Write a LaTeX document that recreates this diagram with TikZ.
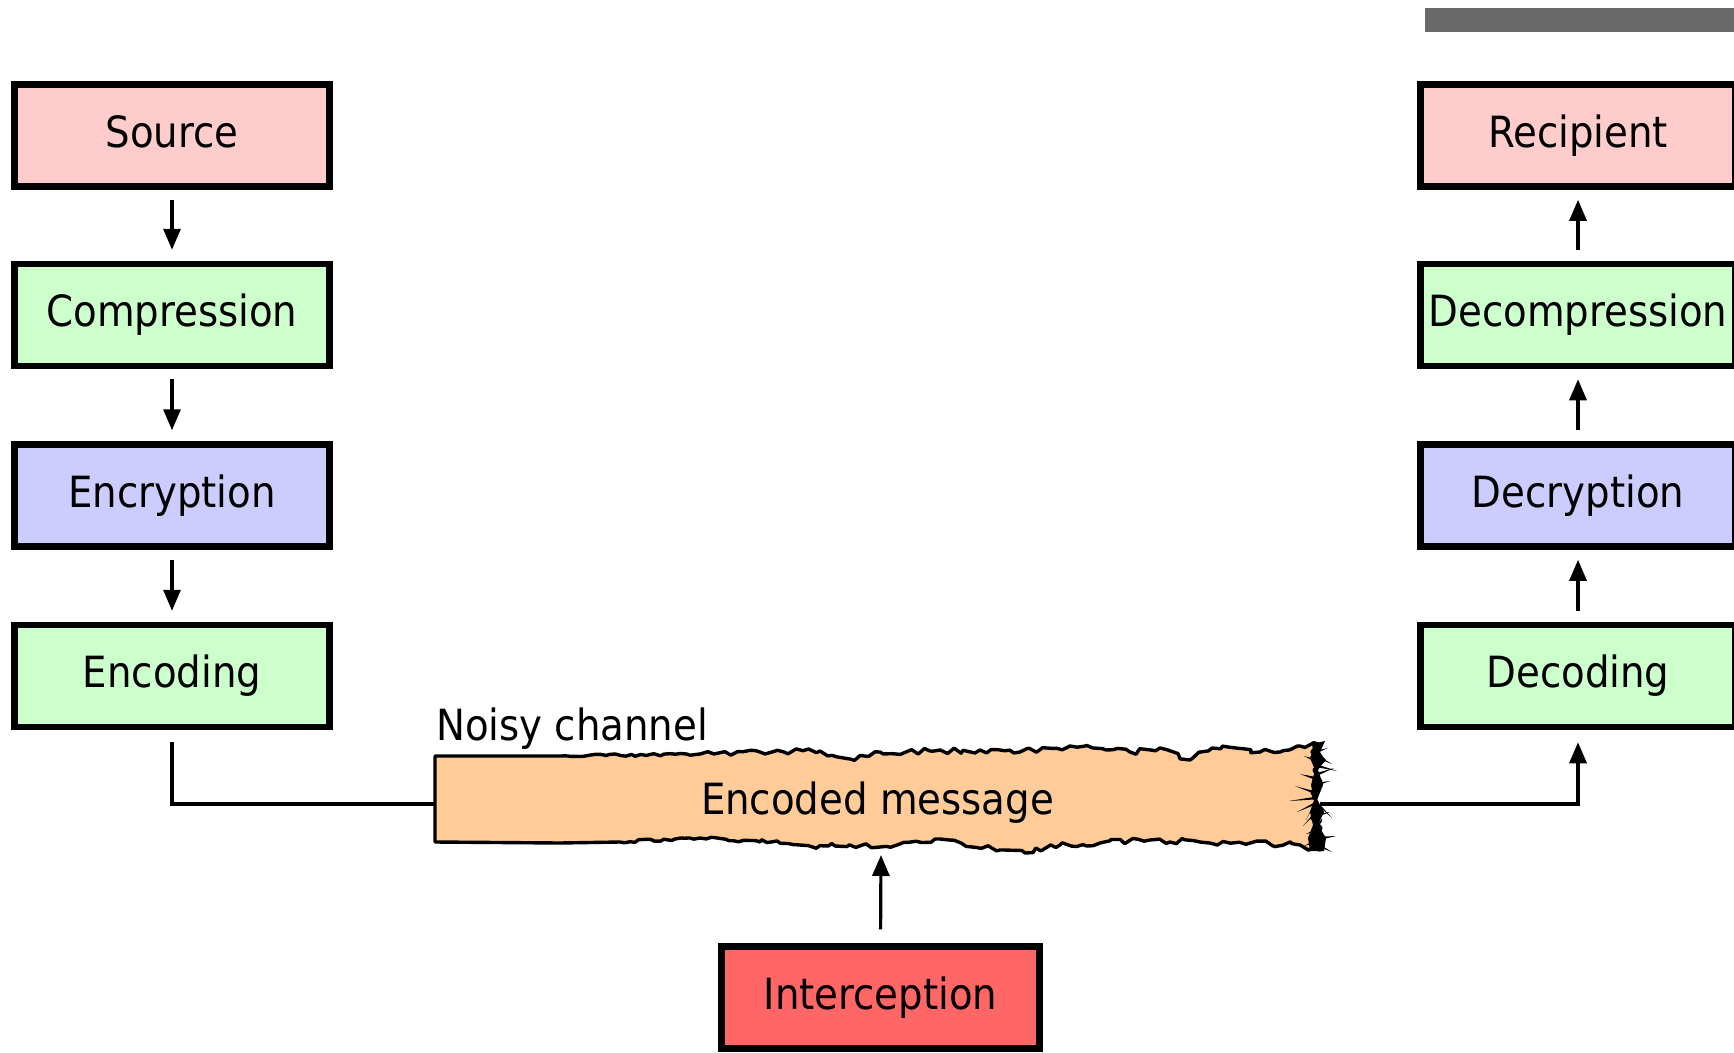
\documentclass[tikz,border=0pt]{standalone}
\usepackage{fontspec}
\setmainfont{DejaVu Sans Condensed}
\usetikzlibrary{arrows.meta,decorations.pathmorphing}
\definecolor{pinkbox}{HTML}{FFCCCC}
\definecolor{greenbox}{HTML}{CCFFCC}
\definecolor{bluebox}{HTML}{CCCCFF}
\definecolor{redbox}{HTML}{FF6666}
\definecolor{peach}{HTML}{FFCC99}
\definecolor{bargray}{HTML}{696969}
\begin{document}
\begin{tikzpicture}[x=1pt,y=-1pt,
  box/.style={draw=black,line width=6.5pt,minimum width=315pt,minimum height=102pt,inner sep=0pt,text height=33pt,text depth=10pt,font=\fontsize{43}{50}\selectfont},
  arr/.style={line width=3.2pt,-{Triangle[length=21pt,width=17pt]}},
  conn/.style={line width=3.2pt},
  roughsmall/.style={decoration={random steps,segment length=5pt,amplitude=1.5pt}},
  roughbig/.style={decoration={random steps,segment length=6pt,amplitude=3pt}}]
\pgfmathsetseed{11}
\useasboundingbox (0,0) rectangle (1734,1052);
\fill[bargray] (1425,8) rectangle (1760,32);

% left column
\node[box,fill=pinkbox]  (src)  at (172,135.5) {Source};
\node[box,fill=greenbox] (comp) at (172,315)   {Compression};
\node[box,fill=bluebox]  (encr) at (172,495.5) {Encryption};
\node[box,fill=greenbox] (encd) at (172,676)   {Encoding};
% right column
\node[box,fill=pinkbox]  (rec)   at (1578,135.5) {Recipient};
\node[box,fill=greenbox] (decomp) at (1578,315)  {Decompression};
\node[box,fill=bluebox]  (decr)  at (1578,495.5) {Decryption};
\node[box,fill=greenbox] (decd)  at (1578,676)   {Decoding};
% interception
\node[box,fill=redbox,minimum width=318pt] (intc) at (880.5,997.5) {Interception};

% channel shape
\draw[fill=peach,line width=3.4pt,line join=round]
  (435,842) -- (435,756) -- (560,756)
  decorate[roughsmall]{ -- (700,754) }
  decorate[roughbig]{ -- (760,752) -- (820,751) -- (850,759) -- (880,752) -- (930,751) -- (980,750) -- (1020,752) -- (1070,746) -- (1130,752) -- (1160,748) -- (1190,760) -- (1212,748) -- (1260,752) -- (1300,746) -- (1318,744) }
  -- (1312,752) -- (1324,760) -- (1314,770) -- (1321,782) -- (1312,792) -- (1318,805)
  -- (1312,818) -- (1321,828) -- (1314,840) -- (1320,850)
  decorate[roughbig]{ -- (1300,845) -- (1250,843) -- (1200,842) -- (1150,840) -- (1100,843) -- (1060,845) -- (1025,853) -- (1000,850) -- (940,839) -- (880,847) -- (800,845) -- (760,842) }
  decorate[roughsmall]{ -- (700,838) -- (620,842) }
  -- (560,843) -- (435,842) -- cycle;
% torn right edge
\fill[black] (1312,744) -- (1325,741) -- (1320,752) -- (1325,760) -- (1318,770) -- (1323,785)
  -- (1317,800) -- (1324,812) -- (1318,825) -- (1326,838) -- (1324,851) -- (1310,851)
  -- (1308,838) -- (1313,825) -- (1310,812) -- (1314,800) -- (1311,785) -- (1315,770)
  -- (1310,758) -- (1313,750) -- cycle;
\foreach \bx/\by/\tx/\ty in {1318/766/1337/771, 1318/774/1334/768, 1316/798/1289/801, 1316/793/1295/786,
  1316/803/1297/812, 1320/806/1332/818, 1316/812/1303/826, 1322/820/1312/833, 1322/838/1336/836,
  1320/846/1332/852, 1314/760/1304/756, 1318/790/1312/778, 1316/830/1306/834, 1318/784/1330/781,
  1316/752/1328/748, 1314/778/1300/774, 1316/816/1330/812, 1314/842/1304/846, 1318/796/1306/820,
  1316/800/1322/830, 1320/758/1332/764}
  \fill[black] (\bx,\by-1.4) -- (\tx,\ty) -- (\bx,\by+1.4) -- cycle;
\node[inner sep=0pt,minimum width=885pt,minimum height=86pt,text height=31pt,text depth=10pt,font=\fontsize{43}{50}\selectfont] (chan) at (877.5,804) {Encoded message};
\node[anchor=base west,inner sep=0pt,font=\fontsize{43}{50}\selectfont] (noisy) at (436,740) {Noisy channel};
\coordinate (intTip) at (881,855);

% connectors
\draw[arr,shorten <=10pt,shorten >=11pt] (src) -- (comp);
\draw[arr,shorten <=10pt,shorten >=11pt] (comp) -- (encr);
\draw[arr,shorten <=10pt,shorten >=11pt] (encr) -- (encd);
\draw[arr,shorten <=11pt,shorten >=10pt] (decomp) -- (rec);
\draw[arr,shorten <=11pt,shorten >=10pt] (decr) -- (decomp);
\draw[arr,shorten <=11pt,shorten >=10pt] (decd) -- (decr);
\draw[conn,shorten <=12pt] (encd.south) |- (chan.west);
\draw[arr,shorten >=12pt] (chan.east) -| (decd.south);
\draw[arr,shorten <=14pt] (intc.north) -- (intTip);
\end{tikzpicture}
\end{document}
